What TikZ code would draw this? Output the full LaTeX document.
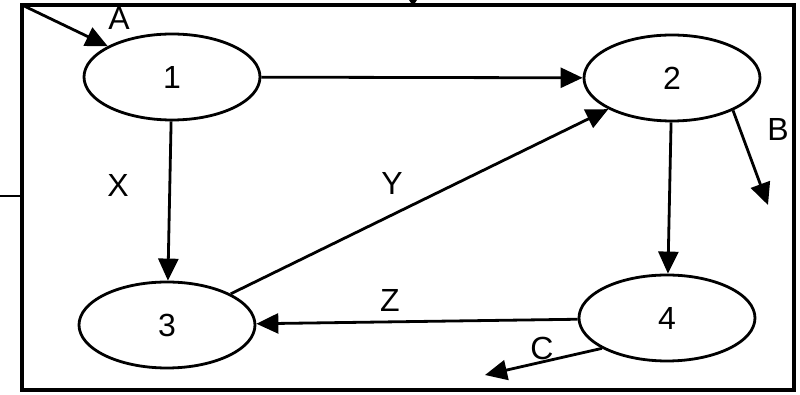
\documentclass[tikz,border=0pt]{standalone}
\usepackage{fontspec}
\setmainfont{Liberation Sans}
\usetikzlibrary{shapes.geometric, arrows.meta}

\begin{document}
\begin{tikzpicture}[x=0.5pt, y=-0.5pt, line width=1.4pt,
    state/.style={ellipse, draw, minimum width=88pt, minimum height=43pt, inner sep=0pt, font=\fontsize{16}{19}\selectfont},
    lab/.style={font=\fontsize{16}{19}\selectfont},
    flow/.style={-{Triangle[length=11pt, width=10pt]}}]
    \useasboundingbox (0,0) rectangle (800,395);
    \draw[line width=2pt] (22,5) rectangle (794,390);
    \node[state] (s1) at (172,77) {1};
    \node[state] (s2) at (672,78) {2};
    \node[state] (s3) at (167,325) {3};
    \node[state] (s4) at (667,318) {4};
    \coordinate (ain) at (22,5);
    \coordinate (bout) at (768,205);
    \coordinate (cout) at (485,375);
    \coordinate (topin) at (413,-20);
    \coordinate (topend) at (413,6);
    \coordinate (leftin) at (0,196);
    \coordinate (leftend) at (22,196);
    \draw[-{Triangle[length=4pt, width=5pt]}] (topin) -- (topend);
    \draw (leftin) -- (leftend);
    \draw[flow] (ain) -- (s1);
    \draw[flow] (s1) -- (s2);
    \draw[flow] (s1) -- (s3);
    \draw[flow] (s2) -- (s4);
    \draw[flow] (s3) -- (s2);
    \draw[flow] (s4) -- (s3);
    \draw[flow] (s2.-28) -- (bout);
    \draw[flow] (s4.205) -- (cout);
    \node[lab] (la) at (119,18) {A};
    \node[lab] (lx) at (118,185) {X};
    \node[lab] (ly) at (392,183) {Y};
    \node[lab] (lb) at (778,129) {B};
    \node[lab] (lz) at (390,300) {Z};
    \node[lab] (lc) at (542,348) {C};
\end{tikzpicture}
\end{document}
